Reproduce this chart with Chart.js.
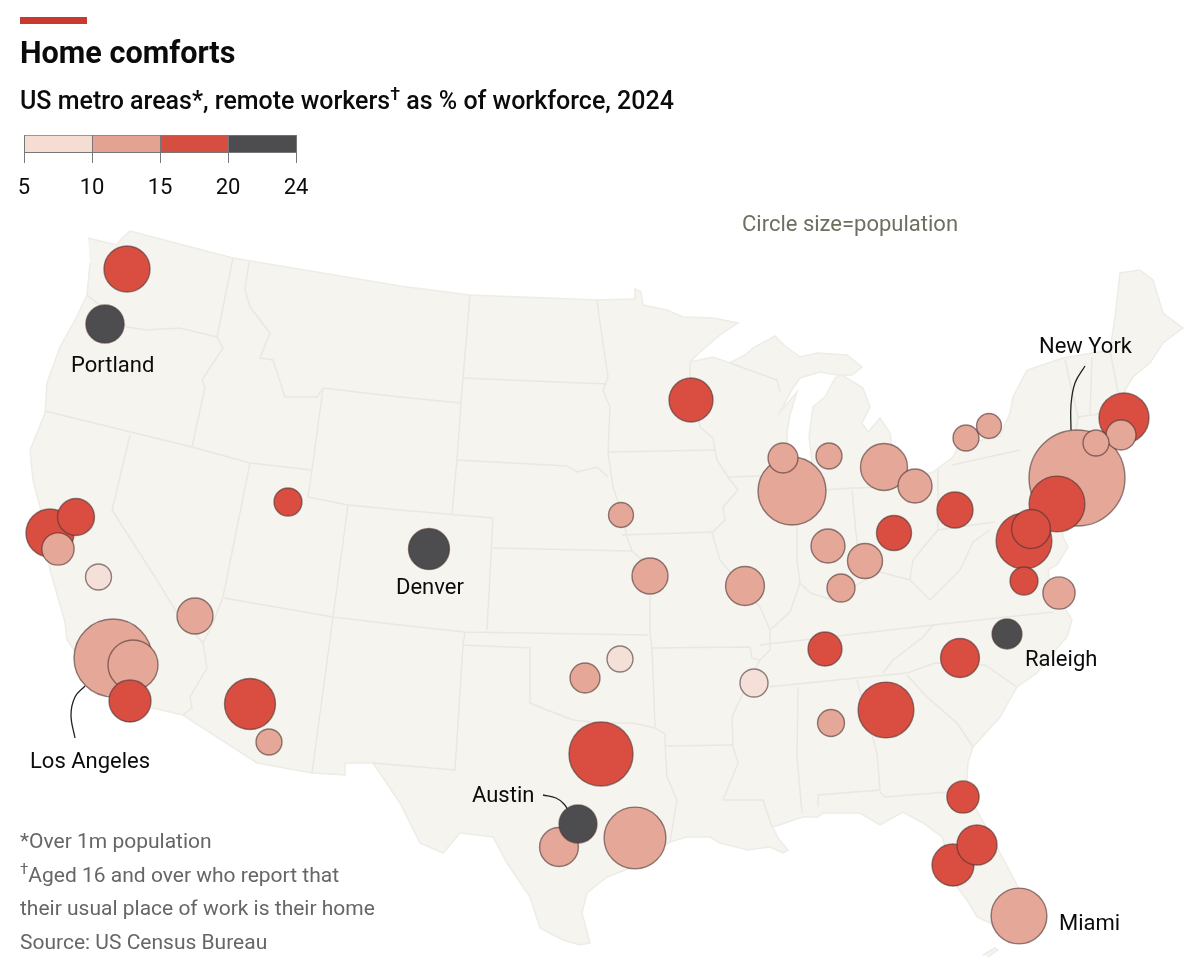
<!DOCTYPE html>
<html><head><meta charset="utf-8">
<script src="https://cdn.jsdelivr.net/npm/chart.js@4"></script>
<style>
html,body{margin:0;padding:0;background:#fff;width:1200px;height:979px;overflow:hidden}
#map{position:absolute;left:0;top:0}
#key{position:absolute;left:0;top:125px}
.t{position:absolute;white-space:nowrap;font-family:Roboto,sans-serif}
sup{font-size:72%;line-height:0;vertical-align:baseline;position:relative;top:-.5em}
</style></head><body>
<canvas id="map" width="1200" height="979"></canvas>
<canvas id="key" width="340" height="80"></canvas>
<div class="t" style="left:20px;top:17px;width:67px;height:7px;background:#c93a2e"></div>
<div class="t" style="left:20px;top:33px;font-size:30.6px;line-height:40px;font-weight:700;color:#0b0b0b">Home comforts</div>
<div class="t" style="left:20px;top:84px;font-size:25px;line-height:34px;font-weight:500;color:#0b0b0b">US metro areas*, remote workers<sup>†</sup> as % of workforce, 2024</div>
<div class="t" style="left:742px;top:210px;font-size:22px;line-height:28px;color:#6f6f60">Circle size=population</div>
<div class="t" style="left:20px;top:825px;font-size:21px;line-height:33.6px;color:#666">*Over 1m population<br><sup>†</sup>Aged 16 and over who report that<br>their usual place of work is their home<br>Source: US Census Bureau</div>
<script>
// ---------- metro areas, in draw order (map units) ----------
const metroNames = ["Seattle","Portland","San Francisco","Sacramento","San Jose","Fresno","Salt Lake City","Las Vegas","Los Angeles","Riverside","San Diego","Phoenix","Tucson","Denver","Minneapolis","Omaha","Kansas City","St Louis","Chicago","Milwaukee","Grand Rapids","Detroit","Cleveland","Pittsburgh","Columbus","Indianapolis","Cincinnati","Louisville","Rochester","Buffalo","New York","Philadelphia","Washington","Baltimore","Richmond","Virginia Beach","Boston","Providence","Hartford","Raleigh","Charlotte","Nashville","Memphis","Atlanta","Birmingham","Jacksonville","Tampa","Orlando","Miami","Oklahoma City","Tulsa","Dallas","San Antonio","Austin","Houston"];
const metroX = [127,105,50,76,58,98.5,288,195,113,133,130,250,269,429,691,621,650,745,792,783,829,884,915,955,894,828,865,841,966,989,1077,1057,1024,1031,1024,1059,1124,1121,1096,1007,960,825,754,886,831,963,953,977,1019,585,620,601,559,578,635];
const metroY = [269,324,533,517,549,577,502,616,658,665,701,704,742,549,400,515,576,586,491,458,456,467,486,510,533,546,561,588,438,426,478,504,541,529,581,593,418,435,443,634,658,649,683,710,723,797,865,845,916,678,659,754,847,824,838];
const metroPop = [4.5,3.1,4.9,2.9,2.2,1.43,1.66,2.75,12.9,5.3,3.74,5.5,1.43,3.56,4.1,1.32,2.75,3.2,9.8,1.9,1.43,4.68,2.45,2.75,2.6,2.45,2.6,1.66,1.43,1.32,19.5,6.6,6.6,3.2,1.66,2.2,5.3,1.9,1.43,1.9,3.2,2.45,1.66,6.6,1.54,2.2,3.74,3.4,6.6,1.9,1.43,8.7,3.2,3.06,8.1];
const metroShare = [17,21,18,16,14,9,16,12,12,12,16,16,13,21,16,13,13,13,14,13,13,13,13,16,17,14,13,13,13,13,14,17,18,17,16,13,18,14,14,21,17,16,9,17,13,16,16,16,13,12,9,16,13,21,12];
// ---------- key ----------
const keyTicks = ["5","10","15","20","24"];
const keyColours = ["#f5ddd3","#e3a392","#d64d42","#4d4d4f"];
const shareBreaks = [10,15,20];
const bubbleColours = ["#f4e0d9","#e5a797","#d94e41","#4d4d4f"];
// ---------- labelled cities and leaders ----------
const labelTexts = ["Portland","Denver","New York","Los Angeles","Raleigh","Austin","Miami"];
const labelX = [71,396,1039,30,1025,472,1059];
const labelY = [366,588,347,762,660,796,924];
const leaderNY = [[1085,366],[1075,383],[1071,405],[1071,430]];
const leaderLA = [[85,686],[75,697],[71,715],[75,738]];
const leaderAustin = [[543,795],[556,798],[564,804],[569,812]];
// ---------- base map ----------
const mapOutline = [[88,238],[100,241],[117,245],[122,238],[130,231],[233,258],[400,286],[470,295],[597,300],[635,299],[635,289],[641,292],[643,305],[667,310],[683,317],[713,318],[738,323],[720,335],[700,352],[690,362],[713,357],[730,363],[745,355],[753,348],[775,336],[785,346],[800,357],[817,353],[847,355],[862,367],[852,375],[837,375],[820,372],[800,378],[793,388],[780,412],[797,392],[790,415],[787,433],[788,452],[795,470],[805,478],[812,462],[809,437],[813,407],[825,397],[835,378],[842,375],[863,388],[870,407],[862,423],[868,432],[880,418],[890,433],[892,447],[884,462],[886,478],[905,480],[933,472],[953,457],[958,447],[973,442],[1000,436],[1010,413],[1013,397],[1027,370],[1063,358],[1110,350],[1115,317],[1120,273],[1140,270],[1153,280],[1163,313],[1183,328],[1163,343],[1150,363],[1133,377],[1125,390],[1128,410],[1145,425],[1130,445],[1095,452],[1060,478],[1063,537],[1068,547],[1057,565],[1048,570],[1052,590],[1060,600],[1072,620],[1067,637],[1053,653],[1037,673],[1017,687],[1000,717],[973,747],[968,763],[967,780],[975,807],[997,847],[1018,887],[1030,920],[1010,940],[990,923],[977,917],[967,900],[957,887],[942,837],[923,823],[903,812],[880,825],[860,813],[823,813],[818,817],[803,817],[773,827],[778,838],[788,850],[783,853],[770,847],[748,850],[720,843],[710,837],[687,837],[670,842],[633,867],[607,877],[587,893],[582,913],[590,943],[580,945],[563,940],[540,928],[530,897],[507,863],[493,837],[460,833],[443,853],[420,843],[400,803],[373,763],[345,763],[345,775],[312,773],[257,763],[183,715],[152,708],[110,695],[90,672],[67,640],[65,622],[50,570],[40,507],[33,480],[30,450],[45,413],[47,383],[60,347],[75,320],[87,295],[90,263]];
const floridaKeys = [[983,955],[995,948],[998,950],[988,957]];
const stateBorders = [
 [[87,295],[127,327],[147,330],[180,328],[217,337]],
 [[233,258],[217,337],[223,348],[202,380],[205,387],[192,447]],
 [[45,411],[192,447],[250,463],[312,470]],
 [[323,388],[312,470],[308,497],[348,505],[400,510],[493,518]],
 [[249,262],[245,290],[250,307],[270,333],[260,358],[273,360],[285,397],[317,397],[323,388],[400,397],[461,403]],
 [[470,295],[463,378],[461,403],[457,460],[452,513]],
 [[348,505],[333,617],[312,773]],
 [[250,463],[223,597],[213,623],[203,643],[207,668],[190,697],[192,708],[183,715]],
 [[130,435],[112,510],[157,580],[177,613],[203,643]],
 [[224,598],[333,617],[400,625],[465,632],[648,635]],
 [[493,518],[487,630]],
 [[493,548],[632,551]],
 [[608,452],[613,487],[622,513],[627,537],[632,551],[650,567],[650,635],[652,647],[655,728]],
 [[457,460],[567,466],[577,472],[597,467],[608,477]],
 [[463,378],[607,384]],
 [[597,300],[602,337],[608,377],[603,390],[610,407],[608,452],[715,450]],
 [[690,363],[690,380],[700,427],[713,438],[715,450],[717,460],[728,477],[738,490],[723,507],[725,520],[712,533],[715,543],[720,560],[745,590],[760,607],[770,630],[770,650],[760,660],[743,693],[732,717],[733,747],[738,763],[723,800],[763,800],[772,827]],
 [[622,535],[712,532]],
 [[728,477],[758,476],[793,474]],
 [[730,363],[777,380],[780,392]],
 [[650,648],[750,647],[752,658],[760,660]],
 [[463,645],[530,648],[530,703],[547,710],[573,720],[600,723],[633,723],[655,728],[665,734],[665,745],[667,777],[677,800],[670,842]],
 [[465,632],[463,645],[455,770],[373,763]],
 [[665,746],[733,745]],
 [[767,687],[907,673],[935,663],[985,665],[1017,687]],
 [[760,645],[933,625],[1053,612]],
 [[798,687],[797,757],[802,813]],
 [[857,680],[877,753],[880,790],[818,795],[818,807]],
 [[880,792],[885,797],[947,792],[967,780]],
 [[883,673],[893,660],[923,637],[933,625]],
 [[907,675],[927,697],[957,723],[973,747]],
 [[797,500],[797,560],[800,583],[790,612],[770,630]],
 [[800,583],[810,593],[833,600],[860,583],[880,572],[910,580],[930,600],[960,570],[973,542],[990,530]],
 [[910,580],[913,560],[927,543],[938,530],[938,470]],
 [[938,530],[995,522]],
 [[952,465],[1020,450]],
 [[852,490],[857,543],[865,572]],
 [[823,490],[852,488],[900,487]],
 [[1065,360],[1078,417],[1073,445]],
 [[1092,357],[1090,415]],
 [[1110,350],[1118,392]],
 [[1078,417],[1128,410]]
];
// ---------- drawing ----------
function toPts(a){return a.map(p=>({x:p[0],y:p[1]}));}
function bin(v){let i=0;while(i<shareBreaks.length&&v>=shareBreaks[i])i++;return i;}
const RADIUS_PER_ROOT_MILLION = 10.86;
const datasets = [];
[mapOutline,floridaKeys].forEach(shape=>datasets.push({type:'scatter',data:toPts(shape),showLine:true,fill:'shape',backgroundColor:'#f5f4ef',borderColor:'#edece6',borderWidth:1.5,pointRadius:0,order:5,tension:0}));
stateBorders.forEach(b=>datasets.push({type:'scatter',data:toPts(b),showLine:true,fill:false,borderColor:'#e9e7e1',borderWidth:1.4,pointRadius:0,order:4,tension:0}));
[leaderNY,leaderLA,leaderAustin].forEach(l=>datasets.push({type:'scatter',data:toPts(l),showLine:true,fill:false,borderColor:'#222',borderWidth:1.3,pointRadius:0,order:3,cubicInterpolationMode:'default',tension:.4}));
datasets.push({type:'bubble',label:'Metro areas',
  data:metroX.map((x,i)=>({x,y:metroY[i],r:RADIUS_PER_ROOT_MILLION*Math.sqrt(metroPop[i])})),
  backgroundColor:metroShare.map(v=>bubbleColours[bin(v)]),
  borderColor:'rgba(75,50,50,.6)',borderWidth:1.4,order:2});
const cityLabels = {id:'cityLabels',afterDatasetsDraw(c){
  const g=c.ctx;g.save();g.font='22px Roboto, sans-serif';g.fillStyle='#0b0b0b';g.textBaseline='middle';g.textAlign='left';
  labelTexts.forEach((t,i)=>g.fillText(t,c.scales.x.getPixelForValue(labelX[i]),c.scales.y.getPixelForValue(labelY[i])));
  g.restore();}};
new Chart(document.getElementById('map'),{
  data:{datasets},
  plugins:[cityLabels],
  options:{responsive:false,animation:false,events:[],
    layout:{padding:0,autoPadding:false},
    plugins:{legend:{display:false},tooltip:{enabled:false}},
    scales:{x:{type:'linear',min:0,max:1200,display:false},y:{type:'linear',min:0,max:979,reverse:true,display:false}}}
});
new Chart(document.getElementById('key'),{
  type:'bar',
  data:{labels:['share'],datasets:keyColours.map(c=>({data:[1],backgroundColor:c,borderColor:'rgba(90,80,80,.75)',borderWidth:{top:1,bottom:0,left:0,right:0},barPercentage:1,categoryPercentage:1}))},
  options:{indexAxis:'y',responsive:false,animation:false,events:[],
    layout:{padding:{left:24,right:44,top:10,bottom:0},autoPadding:false},
    plugins:{legend:{display:false},tooltip:{enabled:false}},
    scales:{
      y:{stacked:true,display:false},
      x:{stacked:true,type:'linear',min:0,max:4,afterFit:s=>{s.height=53;},
        border:{display:true,color:'#777',width:1,z:2},
        grid:{color:'#777',z:1,tickLength:11,drawOnChartArea:true,lineWidth:1},
        ticks:{stepSize:1,padding:12,maxRotation:0,color:'#0b0b0b',font:{family:'Roboto, sans-serif',size:22},callback:v=>keyTicks[v]}}
    }}
});
</script>
</body></html>
